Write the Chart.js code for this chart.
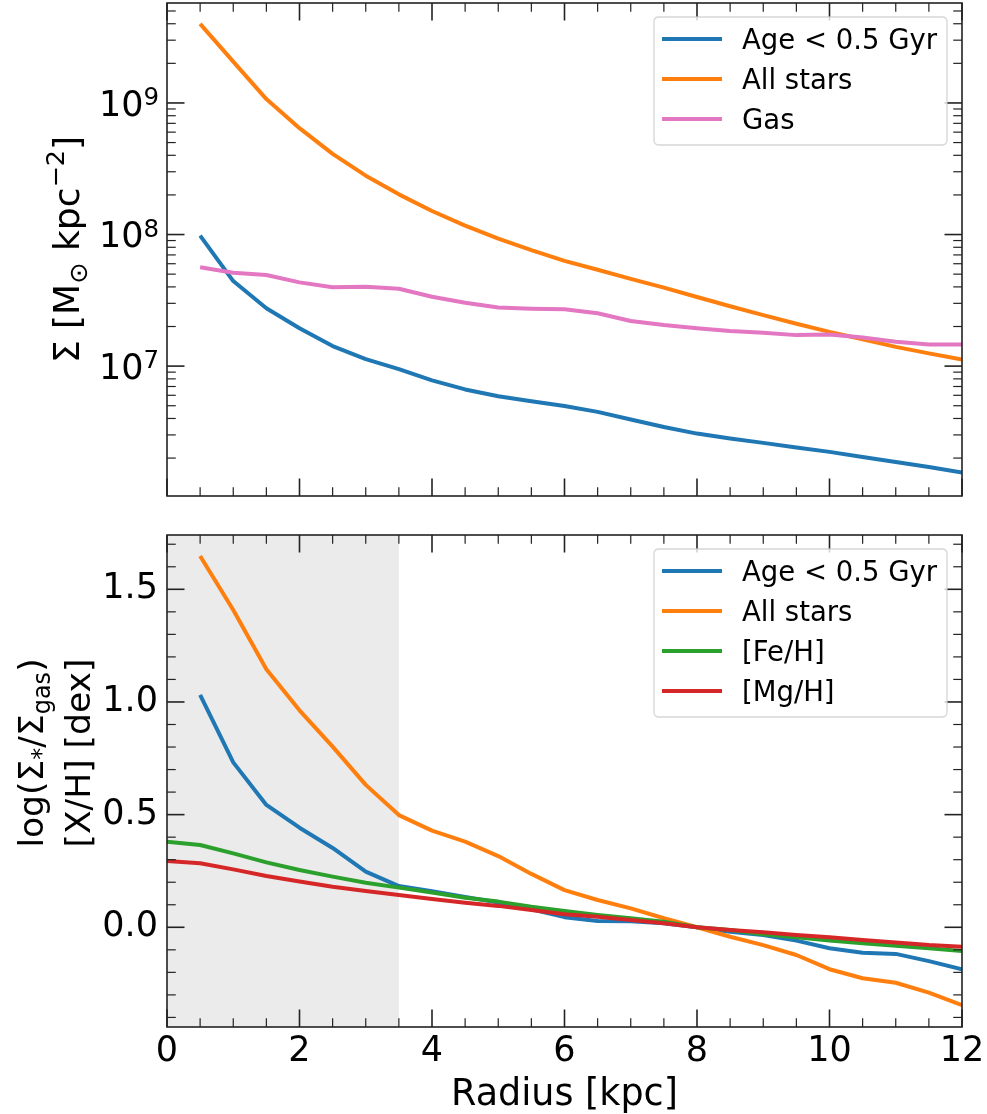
<!DOCTYPE html>
<html>
<head>
<meta charset="utf-8">
<script src="https://cdn.jsdelivr.net/npm/chart.js@4.4.1/dist/chart.umd.min.js"></script>
<style>
  html, body { margin: 0; padding: 0; background: #fff; }
  #wrap { position: relative; width: 987px; height: 1114px; }
  #topBox { position: absolute; left: 0; top: 0; width: 987px; height: 520px; }
  #botBox { position: absolute; left: 0; top: 520px; width: 987px; height: 594px; }
</style>
</head>
<body>
<div id="wrap">
  <div id="topBox"><canvas id="densityChart"></canvas></div>
  <div id="botBox"><canvas id="ratioChart"></canvas></div>
</div>
<script>
// radial profiles
const radii = [0.5, 1, 1.5, 2, 2.5, 3, 3.5, 4, 4.5, 5, 5.5, 6, 6.5, 7, 7.5, 8, 8.5, 9, 9.5, 10, 10.5, 11, 11.5, 12];
const radiiFromZero = [0].concat(radii);

// top panel: surface density [Msun kpc^-2]
const sigmaYoung = [9.8e7, 4.43e7, 2.75e7, 1.94e7, 1.42e7, 1.13e7, 9.5e6, 7.8e6, 6.65e6, 5.9e6, 5.4e6, 4.97e6,
                    4.49e6, 3.93e6, 3.45e6, 3.07e6, 2.82e6, 2.61e6, 2.41e6, 2.23e6, 2.04e6, 1.87e6, 1.71e6, 1.55e6];
const sigmaAll = [3.99e9, 2.06e9, 1.07e9, 6.43e8, 4.1e8, 2.8e8, 2.02e8, 1.51e8, 1.17e8, 9.3e7, 7.6e7, 6.3e7,
                  5.4e7, 4.6e7, 3.95e7, 3.35e7, 2.85e7, 2.44e7, 2.1e7, 1.82e7, 1.6e7, 1.4e7, 1.25e7, 1.12e7];
const sigmaGas = [5.64e7, 5.13e7, 4.92e7, 4.33e7, 3.97e7, 4.01e7, 3.87e7, 3.37e7, 3.03e7, 2.79e7, 2.73e7, 2.70e7,
                  2.52e7, 2.20e7, 2.05e7, 1.94e7, 1.85e7, 1.79e7, 1.72e7, 1.74e7, 1.65e7, 1.53e7, 1.46e7, 1.46e7];

// bottom panel: log(Sigma*/Sigma_gas) and [X/H] in dex
const ratioYoung = [1.031, 0.732, 0.543, 0.442, 0.352, 0.247, 0.183, 0.16, 0.135, 0.11, 0.08, 0.045,
                    0.028, 0.027, 0.018, 0.0, -0.02, -0.034, -0.059, -0.093, -0.113, -0.118, -0.15, -0.186];
const ratioAll = [1.648, 1.408, 1.145, 0.963, 0.802, 0.632, 0.498, 0.429, 0.380, 0.316, 0.237, 0.165,
                  0.121, 0.084, 0.040, 0.0, -0.042, -0.079, -0.123, -0.186, -0.226, -0.246, -0.290, -0.345];
const feH = [0.380, 0.365, 0.328, 0.288, 0.254, 0.225, 0.198, 0.176, 0.154, 0.131, 0.114, 0.091, 0.072,
             0.055, 0.040, 0.025, 0.0, -0.012, -0.031, -0.044, -0.059, -0.071, -0.082, -0.093, -0.105];
const mgH = [0.294, 0.284, 0.257, 0.228, 0.203, 0.180, 0.161, 0.143, 0.126, 0.109, 0.095, 0.077, 0.058,
             0.047, 0.032, 0.018, 0.0, -0.012, -0.022, -0.034, -0.044, -0.056, -0.067, -0.079, -0.086];

// axes
const xTicks = [0, 2, 4, 6, 8, 10, 12];
const sigmaTicks = [1e7, 1e8, 1e9];
const sigmaTickExp = ['7', '8', '9'];
const ratioTicks = [0, 0.5, 1.0, 1.5];
const innerRegion = [0, 3.5];

const FONT = '"DejaVu Sans", "Liberation Sans", sans-serif';
const AXIS_COLOR = '#222';
const TICK_SIZE = 35;
const TITLE_SIZE = 36.5;

const xMinor = [];
for (let i = 1; i < 24; i++) if (i % 4 !== 0) xMinor.push(i * 0.5);
const logMinor = [];
[6, 7, 8, 9].forEach(e => { for (let m = 2; m <= 9; m++) logMinor.push(m * Math.pow(10, e)); });
const linMinor = [];
for (let i = -4; i <= 17; i++) if (i % 5 !== 0) linMinor.push(i / 10);

function pts(xs, ys) {
    return ys.map((v, i) => ({x: xs[i], y: v}));
}

function line(label, color, xs, ys, order) {
    return {
        label: label,
        data: pts(xs, ys),
        borderColor: color,
        backgroundColor: color,
        borderWidth: 4,
        pointRadius: 0,
        fill: false,
        tension: 0,
        borderJoinStyle: 'round',
        clip: 0,
        order: order
    };
}

// text with sub/superscripts, optionally rotated
function drawRich(ctx, parts, x, y, rotate, align) {
    ctx.save();
    ctx.translate(x, y);
    if (rotate) ctx.rotate(-Math.PI / 2);
    ctx.textBaseline = 'alphabetic';
    ctx.textAlign = 'left';
    ctx.fillStyle = '#000';
    let total = 0;
    parts.forEach(p => {
        ctx.font = p.s + 'px ' + FONT;
        p.w = ctx.measureText(p.t).width;
        total += p.w;
    });
    let cx = align === 'center' ? -total / 2 : (align === 'right' ? -total : 0);
    parts.forEach(p => {
        ctx.font = p.s + 'px ' + FONT;
        ctx.fillText(p.t, cx, p.dy || 0);
        cx += p.w;
    });
    ctx.restore();
}

function roundRectPath(ctx, x, y, w, h, r) {
    ctx.beginPath();
    ctx.moveTo(x + r, y);
    ctx.lineTo(x + w - r, y);
    ctx.quadraticCurveTo(x + w, y, x + w, y + r);
    ctx.lineTo(x + w, y + h - r);
    ctx.quadraticCurveTo(x + w, y + h, x + w - r, y + h);
    ctx.lineTo(x + r, y + h);
    ctx.quadraticCurveTo(x, y + h, x, y + h - r);
    ctx.lineTo(x, y + r);
    ctx.quadraticCurveTo(x, y, x + r, y);
    ctx.closePath();
}

function drawLegend(chart) {
    const ctx = chart.ctx, a = chart.chartArea;
    const sets = chart.data.datasets;
    const width = 293;
    const left = a.right - 15 - width, top = a.top + 14;
    const height = 48 + (sets.length - 1) * 40;
    ctx.save();
    roundRectPath(ctx, left, top, width, height, 5);
    ctx.fillStyle = 'rgba(255,255,255,0.8)';
    ctx.fill();
    ctx.strokeStyle = 'rgba(204,204,204,0.8)';
    ctx.lineWidth = 1.3;
    ctx.stroke();
    ctx.font = '27.5px ' + FONT;
    ctx.textBaseline = 'alphabetic';
    ctx.fillStyle = '#000';
    sets.forEach((ds, i) => {
        const ry = top + 22 + i * 40;
        ctx.strokeStyle = ds.borderColor;
        ctx.lineWidth = 4;
        ctx.beginPath();
        ctx.moveTo(left + 8, ry);
        ctx.lineTo(left + 68, ry);
        ctx.stroke();
        ctx.fillText(ds.label, left + 88, ry + 10);
    });
    ctx.restore();
}

// matplotlib-like frame: inward ticks on all sides, shading, titles, legend
function makeFrame(cfg) {
    return {
        id: 'mplFrame',
        beforeDatasetsDraw(chart) {
            if (!cfg.shade) return;
            const {ctx, chartArea: a, scales: {x}} = chart;
            const x0 = x.getPixelForValue(cfg.shade[0]);
            const x1 = x.getPixelForValue(cfg.shade[1]);
            ctx.save();
            ctx.fillStyle = '#ebebeb';
            ctx.fillRect(x0, a.top, x1 - x0, a.bottom - a.top);
            ctx.restore();
        },
        afterDraw(chart) {
            const {ctx, chartArea: a, scales: {x, y}} = chart;
            ctx.save();
            ctx.strokeStyle = AXIS_COLOR;
            const seg = (x1, y1, x2, y2, lw) => {
                ctx.lineWidth = lw;
                ctx.beginPath();
                ctx.moveTo(x1, y1);
                ctx.lineTo(x2, y2);
                ctx.stroke();
            };
            [[xTicks, 17.5, 1.6], [xMinor, 8.75, 1.2]].forEach(([vals, len, lw]) => vals.forEach(v => {
                const px = x.getPixelForValue(v);
                seg(px, a.bottom, px, a.bottom - len, lw);
                seg(px, a.top, px, a.top + len, lw);
            }));
            [[cfg.yMajor, 17.5, 1.6], [cfg.yMinor, 8.75, 1.2]].forEach(([vals, len, lw]) => vals.forEach(v => {
                if (v < y.min || v > y.max) return;
                const py = y.getPixelForValue(v);
                seg(a.left, py, a.left + len, py, lw);
                seg(a.right, py, a.right - len, py, lw);
            }));
            ctx.lineWidth = 1.6;
            ctx.strokeRect(a.left, a.top, a.right - a.left, a.bottom - a.top);
            ctx.restore();

            if (cfg.powerLabels) {
                cfg.yMajor.forEach((v, i) => {
                    const py = y.getPixelForValue(v);
                    drawRich(ctx, [{t: '10', s: TICK_SIZE}, {t: cfg.powerLabels[i], s: 24.5, dy: -10.5}], a.left - 8, py + 12.7, false, 'right');
                });
            }
            cfg.titles.forEach(tl => drawRich(ctx, tl.parts, tl.x, tl.y, true, 'center'));
            drawLegend(chart);
        }
    };
}

const noPad = s => { s.paddingTop = 0; s.paddingBottom = 0; s.paddingLeft = 0; s.paddingRight = 0; };

// top panel
const densityChart = document.getElementById('densityChart');
new Chart(densityChart, {
    type: 'line',
    data: {
        datasets: [
            line('Age < 0.5 Gyr', '#1f77b4', radii, sigmaYoung, 2),
            line('All stars', '#ff7f0e', radii, sigmaAll, 1),
            line('Gas', '#e377c2', radii, sigmaGas, 0)
        ]
    },
    options: {
        responsive: true,
        maintainAspectRatio: false,
        animation: false,
        events: [],
        layout: { padding: { top: 3, right: 25, left: 0, bottom: 0 } },
        scales: {
            x: {
                type: 'linear', min: 0, max: 12,
                grid: { display: false, drawTicks: false },
                border: { display: false },
                ticks: { display: false },
                afterFit: s => { s.height = 24; noPad(s); }
            },
            y: {
                type: 'logarithmic', min: 1.03e6, max: 5.75e9,
                grid: { display: false, drawTicks: false },
                border: { display: false },
                ticks: { display: false },
                afterFit: s => { s.width = 167; noPad(s); }
            }
        },
        plugins: {
            legend: { display: false },
            tooltip: { enabled: false }
        }
    },
    plugins: [makeFrame({
        yMajor: sigmaTicks,
        yMinor: logMinor,
        powerLabels: sigmaTickExp,
        titles: [{
            x: 79, y: 249.5,
            parts: [{t: 'Σ [M', s: 36}, {t: '⊙', s: 25.5, dy: 7.5}, {t: ' kpc', s: 36}, {t: '−2', s: 25.5, dy: -15}, {t: ']', s: 36}]
        }]
    })]
});

// bottom panel
const ratioChart = document.getElementById('ratioChart');
new Chart(ratioChart, {
    type: 'line',
    data: {
        datasets: [
            line('Age < 0.5 Gyr', '#1f77b4', radii, ratioYoung, 3),
            line('All stars', '#ff7f0e', radii, ratioAll, 2),
            line('[Fe/H]', '#2ca02c', radiiFromZero, feH, 1),
            line('[Mg/H]', '#d62728', radiiFromZero, mgH, 0)
        ]
    },
    options: {
        responsive: true,
        maintainAspectRatio: false,
        animation: false,
        events: [],
        layout: { padding: { top: 15, right: 25, left: 0, bottom: 0 } },
        scales: {
            x: {
                type: 'linear', min: 0, max: 12,
                grid: { display: false, drawTicks: false },
                border: { display: false },
                afterBuildTicks: s => { s.ticks = xTicks.map(v => ({value: v})); },
                afterFit: s => { s.height = 87; noPad(s); },
                ticks: {
                    font: { family: FONT, size: TICK_SIZE }, color: '#000', padding: 4,
                    maxRotation: 0, autoSkip: false,
                    callback: v => String(v)
                },
                title: {
                    display: true, text: 'Radius [kpc]', color: '#000',
                    font: { family: FONT, size: TITLE_SIZE }, padding: { top: 0, bottom: -3 }
                }
            },
            y: {
                type: 'linear', min: -0.4425, max: 1.741,
                grid: { display: false, drawTicks: false },
                border: { display: false },
                afterBuildTicks: s => { s.ticks = ratioTicks.map(v => ({value: v})); },
                afterFit: s => { s.width = 167; noPad(s); },
                ticks: {
                    font: { family: FONT, size: TICK_SIZE }, color: '#000', padding: 9,
                    callback: v => Number(v).toFixed(1)
                }
            }
        },
        plugins: {
            legend: { display: false },
            tooltip: { enabled: false }
        }
    },
    plugins: [makeFrame({
        yMajor: ratioTicks,
        yMinor: linMinor,
        shade: innerRegion,
        titles: [
            { x: 43, y: 233,
              parts: [{t: 'log(Σ', s: 34.5}, {t: '*', s: 24, dy: 6}, {t: '/Σ', s: 34.5}, {t: 'gas', s: 24, dy: 7}, {t: ')', s: 34.5}] },
            { x: 90, y: 233, parts: [{t: '[X/H] [dex]', s: 34.5}] }
        ]
    })]
});
</script>
</body>
</html>
